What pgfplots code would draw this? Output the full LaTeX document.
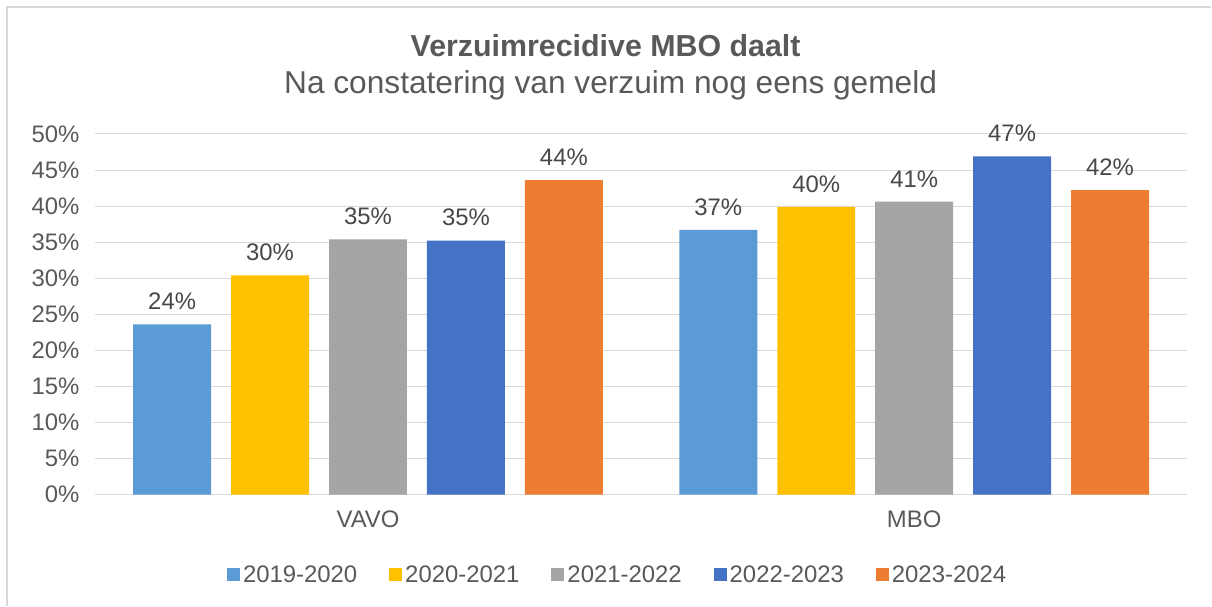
\documentclass[border=0pt]{standalone}
\usepackage{fontspec}
\setmainfont{Liberation Sans}
\usepackage{pgfplots}
\pgfplotsset{compat=1.18}
\definecolor{c1}{HTML}{5B9BD5}
\definecolor{c2}{HTML}{FFC000}
\definecolor{c3}{HTML}{A5A5A5}
\definecolor{c4}{HTML}{4472C4}
\definecolor{c5}{HTML}{ED7D31}
\definecolor{txt}{HTML}{595959}
\definecolor{grd}{HTML}{D9D9D9}
\begin{document}
\begin{tikzpicture}
\begin{axis}[
  scale only axis, width=1093bp, height=361bp,
  ybar=20bp, bar width=78bp,
  xmin=-0.5, xmax=1.5, ymin=0, ymax=50,
  xtick={0,1}, xticklabels={VAVO,MBO},
  ytick={0,5,...,50},
  yticklabel={\pgfmathprintnumber{\tick}\%},
  /pgf/number format/assume math mode=true,
  ymajorgrids, grid style={grd, line width=0.9bp},
  axis x line*=bottom, axis y line*=left,
  y axis line style={draw=none},
  x axis line style={grd, line width=0.9bp},
  tick style={draw=none},
  ticklabel style={font=\fontsize{24}{28}\selectfont, text=txt},
  yticklabel style={xshift=-12bp},
  xticklabel style={yshift=-8bp},
  nodes near coords={\pgfmathprintnumber[fixed,precision=0]{\pgfplotspointmeta}\%},
  every node near coord/.append style={font=\fontsize{24}{28}\selectfont, text=txt!80!black, yshift=11bp},
  legend columns=5,
  legend style={at={(axis description cs:0.4785,-0.2216)}, anchor=center, draw=none,
    font=\fontsize{24}{28}\selectfont, text=txt,
    /tikz/every odd column/.append style={column sep=1bp},
    /tikz/every even column/.append style={column sep=30bp}},
  legend image code/.code={\fill[#1] (0bp,-6.5bp) rectangle (13bp,6.5bp);},
  clip=false,
]
\addplot[draw=none, fill=c1] coordinates {(0,23.6) (1,36.7)};
\addplot[draw=none, fill=c2] coordinates {(0,30.4) (1,39.9)};
\addplot[draw=none, fill=c3] coordinates {(0,35.4) (1,40.6)};
\addplot[draw=none, fill=c4] coordinates {(0,35.2) (1,46.9)};
\addplot[draw=none, fill=c5] coordinates {(0,43.6) (1,42.2)};
\legend{2019-2020,2020-2021,2021-2022,2022-2023,2023-2024}
\end{axis}
\path ([shift={(-95bp,-111bp)}]current axis.south west) rectangle ([shift={(1117bp,495bp)}]current axis.south west);
\draw[grd, line width=1.5bp] ([shift={(-88bp,-111bp)}]current axis.south west) -- ([shift={(-88bp,488bp)}]current axis.south west) -- ([shift={(1117bp,488bp)}]current axis.south west);
\node[font=\bfseries\fontsize{30.5}{34}\selectfont, text=txt] at ([shift={(511bp,449bp)}]current axis.south west) {Verzuimrecidive MBO daalt};
\node[font=\fontsize{31.8}{35}\selectfont, text=txt] at ([shift={(516bp,410bp)}]current axis.south west) {Na constatering van verzuim nog eens gemeld};
\end{tikzpicture}
\end{document}
